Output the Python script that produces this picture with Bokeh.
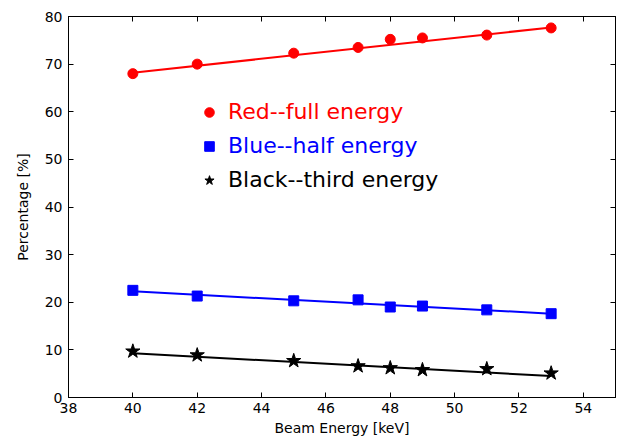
from bokeh.plotting import figure
from bokeh.models import LinearAxis, Legend, LegendItem, Range1d, FixedTicker
from bokeh.embed import file_html
from bokeh.resources import INLINE

energy = [40, 42, 45, 47, 48, 49, 51, 53]
red_full = [68.0, 70.0, 72.3, 73.5, 75.2, 75.5, 76.1, 77.6]
blue_half = [22.5, 21.3, 20.3, 20.5, 19.0, 19.2, 18.4, 17.6]
black_third = [9.7, 8.9, 7.7, 6.6, 6.2, 5.8, 6.0, 5.1]

fit_x = [40, 53]
red_fit = [68.2, 77.7]
blue_fit = [22.3, 17.6]
black_fit = [9.3, 4.5]

x_ticks = [38, 40, 42, 44, 46, 48, 50, 52, 54]
y_ticks = [0, 10, 20, 30, 40, 50, 60, 70, 80]

series_labels = ["Red--full energy", "Blue--half energy", "Black--third energy"]
series_colors = ["red", "blue", "black"]

FONT = "DejaVu Sans"

p = figure(width=618, height=444, output_backend="svg", toolbar_location=None,
           x_range=Range1d(38, 55), y_range=Range1d(0, 80),
           min_border_left=68, min_border_right=3, min_border_top=16, min_border_bottom=47)
p.xgrid.visible = False
p.ygrid.visible = False
p.outline_line_color = "black"
p.outline_line_width = 1
p.background_fill_color = "white"
p.border_fill_color = "white"

def style_axis(ax, ticks, labels=True):
    ax.ticker = FixedTicker(ticks=ticks)
    ax.major_tick_in = 5
    ax.major_tick_out = 0
    ax.minor_tick_in = 0
    ax.minor_tick_out = 0
    ax.axis_line_color = "black"
    ax.major_tick_line_color = "black"
    ax.major_label_text_font = FONT
    ax.major_label_text_font_size = "14px"
    ax.major_label_text_color = "black"
    ax.axis_label_text_font = FONT
    ax.axis_label_text_font_size = "14px"
    ax.axis_label_text_font_style = "normal"
    ax.axis_label_text_color = "black"
    if not labels:
        ax.major_label_overrides = {t: "" for t in ticks}
        ax.major_label_standoff = 0

style_axis(p.xaxis[0], x_ticks)
style_axis(p.yaxis[0], y_ticks)
p.xaxis[0].axis_label = "Beam Energy [keV]"
p.yaxis[0].axis_label = "Percentage [%]"
p.xaxis[0].major_label_standoff = 5
p.yaxis[0].major_label_standoff = 6
p.xaxis[0].axis_label_standoff = 4
p.yaxis[0].axis_label_standoff = 11

top = LinearAxis()
style_axis(top, x_ticks, labels=False)
p.add_layout(top, "above")
right = LinearAxis()
style_axis(right, y_ticks, labels=False)
p.add_layout(right, "right")

p.line(fit_x, red_fit, line_color=series_colors[0], line_width=2)
p.line(fit_x, blue_fit, line_color=series_colors[1], line_width=2)
p.line(fit_x, black_fit, line_color=series_colors[2], line_width=2)

r_red = p.scatter(energy, red_full, marker="circle", size=10,
                  fill_color=series_colors[0], line_color=series_colors[0])
r_blue = p.scatter(energy, blue_half, marker="square", size=10,
                   fill_color=series_colors[1], line_color=series_colors[1])
r_black = p.scatter(energy, black_third, marker="star", size=15,
                    fill_color=series_colors[2], line_color=series_colors[2])

renderers = [r_red, r_blue, r_black]
bottoms = [273, 239, 205]
for lab, col, rend, yb in zip(series_labels, series_colors, renderers, bottoms):
    lg = Legend(items=[LegendItem(label=lab, renderers=[rend])],
                location=(129, yb), padding=0, margin=0, spacing=0,
                glyph_height=24, glyph_width=24, label_height=24, label_standoff=7,
                label_text_font=FONT, label_text_font_size="22px",
                label_text_color=col,
                background_fill_alpha=0, border_line_alpha=0)
    p.add_layout(lg, "center")

html = file_html(p, INLINE)
with open("out.html", "w") as f:
    f.write(html)
